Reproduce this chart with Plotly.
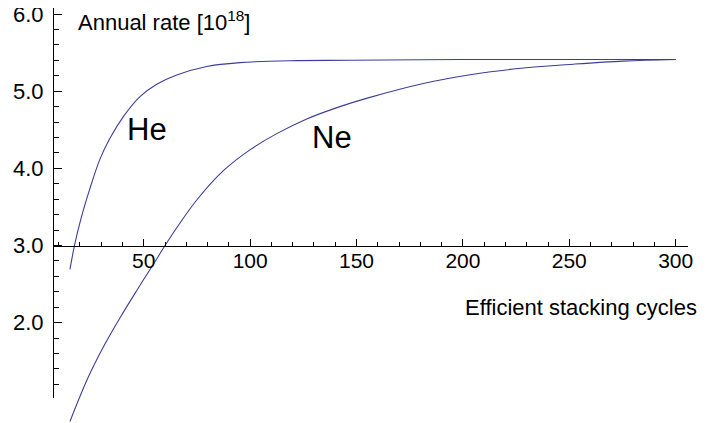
import plotly.graph_objects as go

# ---- data ----
he_x = [15.3, 17.5, 20.3, 24.7, 29.4, 34.1, 40.4, 48.2, 56.1, 65.5, 79.6, 95.2, 118.7, 146.9, 200.0, 250.0, 300.0]
he_y = [2.69, 3.01, 3.33, 3.74, 4.12, 4.39, 4.67, 4.93, 5.09, 5.21, 5.32, 5.37, 5.395, 5.40, 5.41, 5.41, 5.41]

ne_x = [15.3, 23.5, 31.3, 39.2, 47.0, 54.8, 60.0, 65.5, 74.9, 87.4, 99.9, 112.5, 126.6, 142.2, 156.3, 181.4, 204.9, 228.4, 251.9, 275.4, 300.0]
ne_y = [0.72, 1.27, 1.70, 2.08, 2.43, 2.77, 3.00, 3.23, 3.59, 3.97, 4.24, 4.45, 4.64, 4.80, 4.92, 5.10, 5.22, 5.30, 5.35, 5.39, 5.41]

x_major = [50, 100, 150, 200, 250, 300]
y_major = [2.0, 3.0, 4.0, 5.0, 6.0]
y_labels = ["2.0", "3.0", "4.0", "5.0", "6.0"]

x_range = [7.8, 305.8]
y_range = [0.70, 6.078]
y_axis_min = 1.02
x_axis_cross = 3.0

line_color = "#3d3d99"
font_family = "Liberation Sans, Arial, Helvetica, sans-serif"

# the page body has an 8px margin, so the figure is drawn 8px smaller
W, H = 701, 415
ML, MR = 46, 21


def frac(v):
    return (v - y_range[0]) / (y_range[1] - y_range[0])


def px_x(sx):  # screenshot x -> paper fraction
    return (sx - 8 - ML) / (W - ML - MR)


def px_y(sy):  # screenshot y -> paper fraction
    return (H - (sy - 8)) / H


fig = go.Figure()
fig.add_trace(go.Scatter(x=he_x, y=he_y, mode="lines", name="He",
                         line=dict(color=line_color, width=1.1, shape="spline", smoothing=1.0),
                         xaxis="x", yaxis="y", hoverinfo="skip", showlegend=False))
fig.add_trace(go.Scatter(x=ne_x, y=ne_y, mode="lines", name="Ne",
                         line=dict(color=line_color, width=1.1, shape="spline", smoothing=1.0),
                         xaxis="x", yaxis="y", hoverinfo="skip", showlegend=False))
# empty helper traces so the helper axes exist
fig.add_trace(go.Scatter(x=[None], y=[None], mode="lines", xaxis="x", yaxis="y2",
                         hoverinfo="skip", showlegend=False))
fig.add_trace(go.Scatter(x=[None], y=[None], mode="lines", xaxis="x", yaxis="y3",
                         hoverinfo="skip", showlegend=False))

fig.update_layout(
    template="none",
    width=W, height=H,
    margin=dict(l=ML, r=MR, t=0, b=0, pad=0, autoexpand=False),
    plot_bgcolor="rgba(0,0,0,0)", paper_bgcolor="white",
    font=dict(family=font_family, size=22, color="black"),
    xaxis=dict(
        range=x_range, domain=[0, 1], anchor="y2", automargin=False,
        showline=True, linecolor="black", linewidth=1,
        ticks="inside", ticklen=7, tickcolor="black", tickwidth=1,
        tickmode="array", tickvals=x_major,
        ticklabelstandoff=-4,
        showgrid=False, zeroline=False,
        tickfont=dict(size=21),
        minor=dict(dtick=10, tick0=0, ticklen=4, ticks="inside",
                   tickcolor="black", showgrid=False),
    ),
    # axis that holds the curves (full height, hidden)
    yaxis=dict(range=y_range, domain=[0, 1], anchor="x", visible=False,
               automargin=False, showgrid=False, zeroline=False),
    # helper axis whose bottom edge is at y = 3.0 (carries the x axis line)
    yaxis2=dict(range=[x_axis_cross, y_range[1]], domain=[frac(x_axis_cross), 1],
                anchor="x", visible=False, automargin=False,
                showgrid=False, zeroline=False),
    # visible y axis
    yaxis3=dict(
        range=[y_axis_min, y_range[1]], domain=[frac(y_axis_min), 1],
        anchor="x", automargin=False,
        showline=True, linecolor="black", linewidth=1,
        ticks="inside", ticklen=8, tickcolor="black", tickwidth=1,
        tickmode="array", tickvals=y_major, ticktext=y_labels,
        ticklabelstandoff=5, ticklabeloverflow="allow",
        showgrid=False, zeroline=False,
        tickfont=dict(size=22),
        minor=dict(dtick=0.2, tick0=0, ticklen=5, ticks="inside",
                   tickcolor="black", showgrid=False),
    ),
    annotations=[
        dict(text="He", x=51.6, y=4.50, xref="x", yref="y", showarrow=False,
             font=dict(size=31), xanchor="center", yanchor="middle"),
        dict(text="Ne", x=138.7, y=4.40, xref="x", yref="y", showarrow=False,
             font=dict(size=31), xanchor="center", yanchor="middle"),
        dict(text="Annual rate [10<sup>18</sup>]", x=px_x(76), y=px_y(21),
             xref="paper", yref="paper", showarrow=False,
             font=dict(size=22), xanchor="left", yanchor="middle"),
        dict(text="Efficient stacking cycles", x=px_x(699), y=px_y(307),
             xref="paper", yref="paper", showarrow=False,
             font=dict(size=22), xanchor="right", yanchor="middle"),
    ],
)

fig.write_html("out.html")
